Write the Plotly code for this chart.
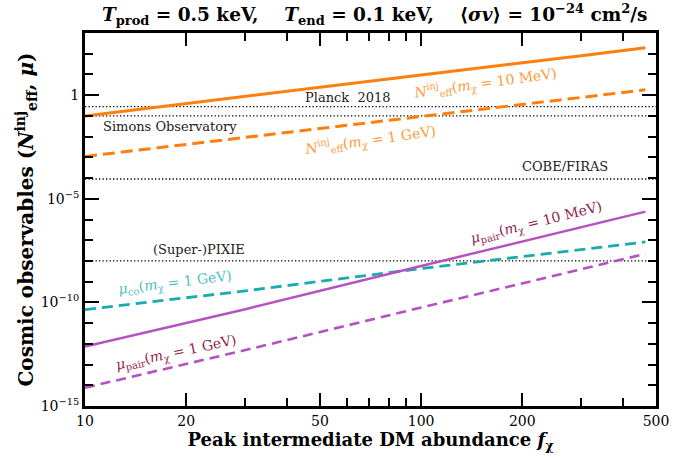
import plotly.graph_objects as go
import math

# ---------------- data ----------------
f_chi = [10, 30, 100, 300, 465]
neff_10MeV = [0.10, 0.90, 9.5, 80, 195]
neff_1GeV = [1.1e-3, 9.2e-3, 0.094, 0.78, 1.82]
mu_co_1GeV = [4.5e-11, 3.6e-10, 4.3e-9, 3.6e-8, 8.3e-8]
mu_pair_10MeV = [7.5e-13, 4.7e-11, 5.7e-9, 4.4e-7, 2.4e-6]
mu_pair_1GeV = [7.6e-15, 5.0e-13, 5.6e-11, 4.0e-9, 2.2e-8]

limit_x = [10, 500]
limit_names = ["Planck\u00a0 2018", "Simons Observatory", "COBE/FIRAS", "(Super-)PIXIE"]
limit_values = [0.28, 0.10, 9e-5, 1e-8]

x_tickvals = [10, 20, 50, 100, 200, 500]
x_ticktext = ["10", "20", "50", "100", "200", "500"]
x_minor = [30, 40, 60, 70, 80, 90, 300, 400]
y_tickvals = [1e-15, 1e-10, 1e-5, 1]
y_ticktext = ["10<sup>−15</sup>", "10<sup>−10</sup>", "10<sup>−5</sup>", "1"]
y_minor = [10.0 ** k for k in range(-14, 4) if k not in (-10, -5, 0)]

# ---------------- style ----------------
ORANGE = "#ff7f0e"
ORANGE_LBL = "#ff9a3a"
TEAL = "#1aabab"
TEAL_LBL = "#4cc2c2"
PURPLE = "#b452c0"
MAROON = "#8e1f4e"
FONT = "DejaVu Serif"

fig = go.Figure()

for val in limit_values:
    fig.add_trace(go.Scatter(x=limit_x, y=[val, val], mode="lines",
                             line=dict(color="black", width=1.3, dash="1.3px,2.2px"),
                             hoverinfo="skip", showlegend=False))

fig.add_trace(go.Scatter(x=f_chi, y=neff_10MeV, mode="lines",
                         line=dict(color=ORANGE, width=3), showlegend=False))
fig.add_trace(go.Scatter(x=f_chi, y=neff_1GeV, mode="lines",
                         line=dict(color=ORANGE, width=3, dash="12px,6px"), showlegend=False))
fig.add_trace(go.Scatter(x=f_chi, y=mu_co_1GeV, mode="lines",
                         line=dict(color=TEAL, width=2.8, dash="11px,6px"), showlegend=False))
fig.add_trace(go.Scatter(x=f_chi, y=mu_pair_10MeV, mode="lines",
                         line=dict(color=PURPLE, width=2.5), showlegend=False))
fig.add_trace(go.Scatter(x=f_chi, y=mu_pair_1GeV, mode="lines",
                         line=dict(color=PURPLE, width=2.6, dash="10px,6px"), showlegend=False))

# pixel -> log-data helpers for label placement
X0, PXD = 85.0, 342.6
Y1PX, PYD = 95.0, 20.94

def lx(px):
    return 1 + (px - X0) / PXD

def ly(py):
    return (Y1PX - py) / PYD

labels = [
    (limit_names[0], 353, 97, 0, "#222222", 13),
    (limit_names[1], 172, 127, 0, "#222222", 13),
    (limit_names[2], 574, 167, 0, "#222222", 13),
    (limit_names[3], 201, 251, 0, "#222222", 13),
    ("<i>N</i><sup>inj</sup><sub>eff</sub>(<i>m</i><sub>χ</sub> = 10 MeV)", 493, 83, -8, ORANGE_LBL, 14),
    ("<i>N</i><sup>inj</sup><sub>eff</sub>(<i>m</i><sub>χ</sub> = 1 GeV)", 376, 140, -8, ORANGE_LBL, 14),
    ("<i>μ</i><sub>pair</sub>(<i>m</i><sub>χ</sub> = 10 MeV)", 545, 224, -14, MAROON, 14),
    ("<i>μ</i><sub>co</sub>(<i>m</i><sub>χ</sub> = 1 GeV)", 177, 285, -7, TEAL_LBL, 14),
    ("<i>μ</i><sub>pair</sub>(<i>m</i><sub>χ</sub> = 1 GeV)", 178, 356, -12, MAROON, 14),
]
for txt, px, py, ang, col, sz in labels:
    fig.add_annotation(x=lx(px), y=ly(py), xref="x", yref="y", text=txt,
                       showarrow=False, textangle=ang, xanchor="center", yanchor="middle",
                       font=dict(family=FONT, size=sz, color=col))

title = ("<b><i>T</i><sub>prod</sub> = 0.5 keV,\u00a0\u00a0\u00a0 <i>T</i><sub>end</sub> = 0.1 keV,"
         "\u00a0\u00a0\u00a0 ⟨<i>σv</i>⟩ = 10<sup>−24</sup> cm<sup>2</sup>/s</b>")
fig.add_annotation(x=(380 - 85) / 582, y=1, xref="paper", yref="paper", yshift=19, text=title,
                   showarrow=False, xanchor="center", yanchor="middle",
                   font=dict(family=FONT, size=18.5, color="black"))

fig.update_layout(
    width=681, height=459,
    margin=dict(l=85, r=14, t=33, b=50),
    paper_bgcolor="white", plot_bgcolor="white",
    font=dict(family=FONT, size=14, color="black"),
    showlegend=False,
)
fig.update_xaxes(
    type="log", range=[1, math.log10(500)],
    showline=True, linewidth=3, linecolor="black", mirror="ticks",
    showgrid=False, zeroline=False,
    tickmode="array", tickvals=x_tickvals, ticktext=x_ticktext,
    ticks="inside", ticklen=13, tickwidth=1.5, tickcolor="black",
    tickfont=dict(family=FONT, size=14),
    minor=dict(tickmode="array", tickvals=x_minor, ticks="inside", ticklen=8,
               tickwidth=1.5, tickcolor="black", showgrid=False),
    title=dict(text="<b>Peak intermediate DM abundance <i>f</i><sub>χ</sub></b>",
               font=dict(family=FONT, size=18), standoff=6),
)
fig.update_yaxes(
    type="log", range=[-15, 3],
    showline=True, linewidth=3, linecolor="black", mirror="ticks",
    showgrid=False, zeroline=False,
    tickmode="array", tickvals=y_tickvals, ticktext=y_ticktext,
    ticks="inside", ticklen=14, tickwidth=1.5, tickcolor="black",
    tickfont=dict(family=FONT, size=14),
    minor=dict(tickmode="array", tickvals=y_minor, ticks="inside", ticklen=8,
               tickwidth=1.5, tickcolor="black", showgrid=False),
    title=dict(text="<b>Cosmic observables (<i>N</i><sup>inj</sup><sub>eff</sub>, <i>μ</i>)</b>",
               font=dict(family=FONT, size=20), standoff=2),
)

fig.write_html("out.html")
